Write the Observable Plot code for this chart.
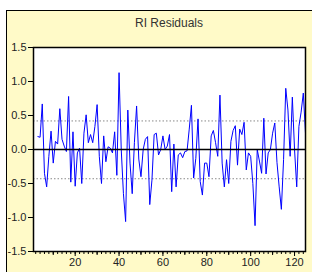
<!DOCTYPE html>
<html>
<head>
<meta charset="utf-8">
<script src="https://cdn.jsdelivr.net/npm/d3@7"></script>
<script src="https://cdn.jsdelivr.net/npm/@observablehq/plot@0.6"></script>
<style>
  html, body { margin: 0; padding: 0; background: white; }
  #wrap { position: relative; width: 312px; height: 272px; overflow: hidden; background: white; }
  #panel { position: absolute; left: 6px; top: 10px; right: 0; bottom: 0; background: #fffac8; border-left: 1px solid #000; border-top: 1px solid #000; }
  #title { position: absolute; left: 33px; width: 272px; top: 16px; text-align: center; font: 12px "Liberation Sans", Arial, sans-serif; color: #333; }
  #chart { position: absolute; left: 0; top: 0; }
</style>
</head>
<body>
<div id="wrap">
  <div id="panel"></div>
  <div id="title">RI Residuals</div>
  <div id="chart"></div>
</div>
<script>
const titleText = "RI Residuals";
const startObs = 3;
const residuals = [
  0.19, 0.18, 0.67, -0.35, -0.55, -0.10, 0.27, -0.20, 0.12, 0.08,
  0.60, 0.15, 0.05, -0.03, 0.78, -0.48, 0.26, -0.54, -0.05, 0.02,
  -0.50, 0.24, 0.51, 0.10, 0.22, 0.10, 0.34, 0.66, -0.10, -0.50,
  0.20, -0.18, 0.04, 0.02, -0.05, 0.26, -0.38, 1.13, 0.00, -0.65,
  -1.06, 0.58, -0.20, -0.65, 0.10, 0.64, -0.14, -0.40, 0.00, 0.15,
  0.19, -0.81, -0.45, 0.22, 0.24, -0.08, 0.00, 0.20, 0.00, 0.05,
  0.22, -0.62, 0.08, -0.55, -0.08, -0.05, -0.12, -0.03, -0.02, 0.30,
  0.65, -0.42, -0.13, 0.45, -0.47, -0.67, -0.20, -0.20, -0.40, 0.20,
  0.28, 0.10, -0.10, 0.80, -0.20, -0.55, -0.15, -0.50, 0.12, 0.28,
  0.35, -0.23, 0.30, 0.22, 0.40, -0.30, -0.05, -0.10, -0.50, -1.12,
  0.00, -0.17, -0.35, 0.46, -0.36, -0.05, 0.00, 0.24, 0.39, -0.19,
  -0.55, -0.88, -0.15, 0.90, 0.58, -0.10, 0.77, 0.00, -0.55, 0.34,
  0.55, 0.83, 0.24
];
const sdBand = [0.42, -0.43];
const xMajorTicks = [20, 40, 60, 80, 100, 120];
const xMidTicks = [10, 30, 50, 70, 90, 110];
const xMinorTicks = d3.range(2, 126, 2);
const yTicks = [-1.5, -1.0, -0.5, 0.0, 0.5, 1.0, 1.5];

const data = residuals.map((v, i) => ({obs: startObs + i, resid: v}));

const chart = Plot.plot({
  width: 312,
  height: 272,
  marginLeft: 33,
  marginRight: 7,
  marginTop: 47,
  marginBottom: 21,
  style: {background: "transparent", overflow: "visible", fontFamily: "'Liberation Sans', Arial, sans-serif", fontSize: "11px", color: "#222"},
  x: {domain: [1, 125], label: null},
  y: {domain: [-1.5, 1.5], label: null},
  marks: [
    Plot.frame({fill: "white", stroke: null}),
    Plot.ruleY(sdBand, {stroke: "#888", strokeWidth: 1, strokeDasharray: "1.5,2"}),
    Plot.line(data, {x: "obs", y: "resid", stroke: "#0000ff", strokeWidth: 1}),
    Plot.ruleY([0], {stroke: "#000", strokeWidth: 1.5}),
    Plot.axisX(xMinorTicks, {tickSize: 3, tickFormat: () => "", stroke: "#000", label: null}),
    Plot.axisX(xMidTicks, {tickSize: 4, tickFormat: () => "", stroke: "#000", label: null}),
    Plot.axisX(xMajorTicks, {tickSize: 5, tickPadding: 2, fontSize: 11, stroke: "#000", label: null}),
    Plot.axisY(yTicks, {tickSize: 5, tickPadding: 2, fontSize: 11, stroke: "#000", tickFormat: d => d.toFixed(1), label: null}),
    Plot.frame({stroke: "#000", strokeWidth: 1.5})
  ]
});
document.getElementById("chart").appendChild(chart);
</script>
</body>
</html>
